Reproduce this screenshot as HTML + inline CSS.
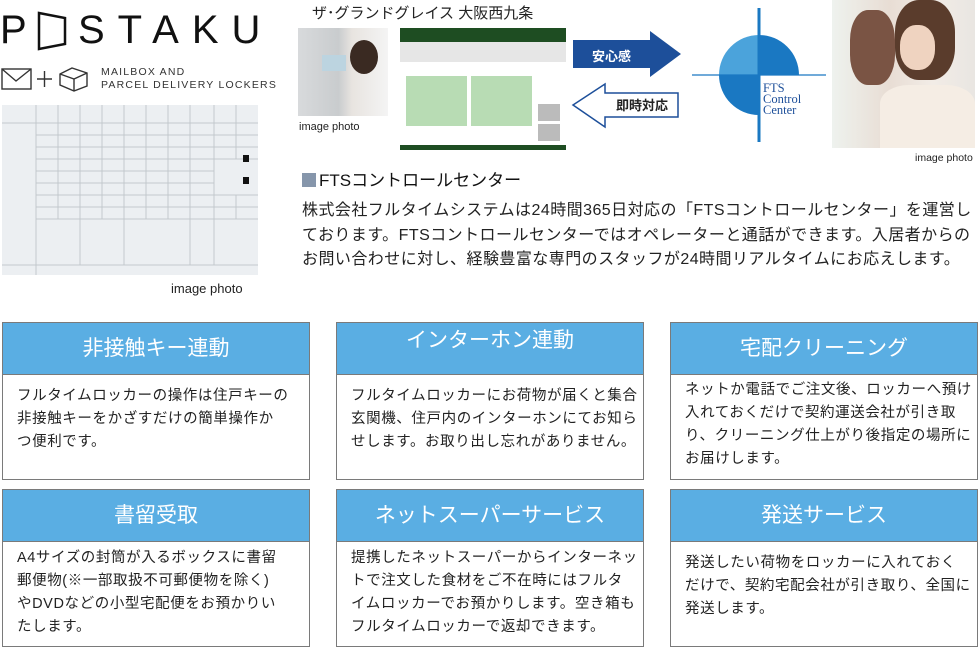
<!DOCTYPE html>
<html><head><meta charset="utf-8"><style>
*{margin:0;padding:0;box-sizing:border-box}
body{width:980px;height:648px;background:#fff;position:relative;overflow:hidden;font-family:"Liberation Sans","Noto Sans CJK JP",sans-serif;color:#222}
.a{position:absolute}
.card{position:absolute;width:308px;height:158px;border:1.5px solid #7a7a7a;background:#fff}
.card .h{height:52px;background:#5aaee3;color:#fff;font-size:21px;text-align:center;line-height:52px;border-bottom:1px solid #7a7a7a}
.card .b{padding:10px 0 0 14px;font-size:14.5px;line-height:23px;letter-spacing:0.6px;white-space:nowrap}
.p{font-size:16px;line-height:24.5px;white-space:nowrap;letter-spacing:0.45px}
</style></head><body>
<!-- logo -->
<div class="a" style="left:0;top:8px;font-size:40px;color:#111;font-weight:300">P</div>
<div class="a" style="left:78px;top:8px;font-size:40px;letter-spacing:13px;color:#111;font-weight:300">STAKU</div>
<svg class="a" style="left:36px;top:11px" width="32" height="40"><path d="M3 2 L29 7 L29 33 L3 38 Z" fill="none" stroke="#111" stroke-width="2.5"/></svg>
<svg class="a" style="left:0;top:64px" width="92" height="28" fill="none" stroke="#333" stroke-width="1.4"><rect x="2" y="5" width="29" height="20"/><path d="M2 5 L16 17 L31 5"/><path d="M37 15 H52 M44.5 7 V23"/><path d="M60 10 L72 4 L87 9 L87 22 L74 27 L60 21 Z M60 10 L74 15 L87 9 M74 15 V27"/></svg>
<div class="a" style="left:101px;top:66px;font-size:10.5px;letter-spacing:1.2px;line-height:13px;color:#333">MAILBOX AND<br>PARCEL DELIVERY LOCKERS</div>
<!-- locker -->
<svg class="a" style="left:2px;top:105px" width="256" height="170">
<rect width="256" height="170" fill="#eceff2"/>
<g stroke="#c3c8cd" stroke-width="1">
<line x1="0" y1="18" x2="256" y2="18"/><line x1="34" y1="30" x2="256" y2="30"/><line x1="34" y1="42" x2="256" y2="42"/><line x1="34" y1="54" x2="256" y2="54"/><line x1="34" y1="66" x2="212" y2="66"/><line x1="34" y1="78" x2="212" y2="78"/><line x1="34" y1="90" x2="256" y2="90"/><line x1="34" y1="102" x2="256" y2="102"/><line x1="34" y1="114" x2="256" y2="114"/><line x1="0" y1="160" x2="256" y2="160"/>
<line x1="34" y1="0" x2="34" y2="170"/><line x1="56" y1="0" x2="56" y2="114"/><line x1="78" y1="0" x2="78" y2="160"/><line x1="100" y1="0" x2="100" y2="114"/><line x1="122" y1="0" x2="122" y2="160"/><line x1="144" y1="0" x2="144" y2="114"/><line x1="166" y1="0" x2="166" y2="114"/><line x1="188" y1="0" x2="188" y2="160"/><line x1="212" y1="0" x2="212" y2="160"/><line x1="234" y1="0" x2="234" y2="54"/><line x1="234" y1="90" x2="234" y2="114"/>
</g>
<rect x="241" y="50" width="6" height="7" fill="#111"/><rect x="241" y="72" width="6" height="7" fill="#111"/>
</svg>
<div class="a" style="left:171px;top:281px;font-size:13px">image photo</div>
<!-- middle -->
<div class="a" style="left:312px;top:2px;font-size:15px">ザ･グランドグレイス 大阪西九条</div>
<div class="a" style="left:298px;top:28px;width:90px;height:88px;background:linear-gradient(90deg,#d8dadc 0%,#c9ccce 45%,#e8e4e0 60%,#f4f4f4 100%)"></div>
<div class="a" style="left:350px;top:40px;width:28px;height:34px;border-radius:50%;background:#3a2a22"></div>
<div class="a" style="left:322px;top:55px;width:24px;height:16px;background:#bcd4e0"></div>
<div class="a" style="left:299px;top:121px;font-size:11px">image photo</div>
<div class="a" style="left:400px;top:28px;width:166px;height:122px;background:#fff">
<div style="height:14px;background:#1e4d22"></div>
<div style="height:20px;background:#e6e6e6"></div>
<div style="position:absolute;left:6px;top:48px;width:61px;height:50px;background:#b8dcb4"></div>
<div style="position:absolute;left:71px;top:48px;width:61px;height:50px;background:#b8dcb4"></div>
<div style="position:absolute;left:138px;top:76px;width:22px;height:17px;background:#bbb"></div>
<div style="position:absolute;left:138px;top:96px;width:22px;height:17px;background:#bbb"></div>
<div style="position:absolute;left:0;top:117px;width:166px;height:5px;background:#1e4d22"></div>
</div>
<svg class="a" style="left:570px;top:28px" width="115" height="104">
<path d="M3 12 H80 V3 L111 26 L80 49 V40 H3 Z" fill="#1d4f9a"/>
<path d="M35 56 V65 H108 V89 H35 V99 L3 77 Z" fill="#fff" stroke="#1d4f9a" stroke-width="1.5"/>
<text x="22" y="33" font-size="13" font-weight="bold" fill="#fff" font-family="Noto Sans CJK JP,sans-serif">安心感</text>
<text x="46" y="82" font-size="13" font-weight="bold" fill="#222" font-family="Noto Sans CJK JP,sans-serif">即時対応</text>
</svg>
<svg class="a" style="left:690px;top:6px" width="140" height="140">
<path d="M29 69 A40 40 0 0 1 69 29 V69 Z" fill="#4ba3db"/>
<path d="M69 29 A40 40 0 0 1 109 69 H69 Z" fill="#1a78c2"/>
<path d="M29 69 H69 V109 A40 40 0 0 1 29 69 Z" fill="#1a78c2"/>
<line x1="2" y1="69" x2="136" y2="69" stroke="#1a78c2" stroke-width="1.2"/>
<line x1="69" y1="2" x2="69" y2="136" stroke="#1a78c2" stroke-width="3"/>
<text font-size="12.5" fill="#1d4f9a" font-family="Liberation Serif,serif"><tspan x="73" y="86">FTS</tspan><tspan x="73" dy="11">Control</tspan><tspan x="73" dy="11">Center</tspan></text>
</svg>
<div class="a" style="left:832px;top:0;width:143px;height:148px;background:linear-gradient(90deg,#eef2ee,#e8ddd4 40%,#f2ece6 70%,#e9e6e2)"></div>
<div class="a" style="left:850px;top:10px;width:45px;height:75px;border-radius:40%;background:#7a5444"></div>
<div class="a" style="left:895px;top:0;width:60px;height:80px;border-radius:40%;background:#5a3c2c"></div>
<div class="a" style="left:900px;top:25px;width:35px;height:45px;border-radius:45%;background:#efd3c0"></div>
<div class="a" style="left:880px;top:85px;width:95px;height:63px;border-radius:30% 30% 0 0;background:#f5ede4"></div>
<div class="a" style="left:915px;top:152px;font-size:10.5px">image photo</div>
<div class="a" style="left:302px;top:166px;font-size:17px;color:#111"><span style="display:inline-block;width:14px;height:14px;background:#8696ab;vertical-align:-1px;margin-right:3px"></span>FTSコントロールセンター</div>
<div class="a p" style="left:302px;top:199px">株式会社フルタイムシステムは24時間365日対応の「FTSコントロールセンター」を運営し<br>ております。FTSコントロールセンターではオペレーターと通話ができます。入居者からの<br>お問い合わせに対し、経験豊富な専門のスタッフが24時間リアルタイムにお応えします。</div>
<!-- cards -->
<div class="card" style="left:2px;top:322px"><div class="h">非接触キー連動</div><div class="b">フルタイムロッカーの操作は住戸キーの<br>非接触キーをかざすだけの簡単操作か<br>つ便利です。</div></div>
<div class="card" style="left:336px;top:322px"><div class="h" style="line-height:36px">インターホン連動</div><div class="b">フルタイムロッカーにお荷物が届くと集合<br>玄関機、住戸内のインターホンにてお知ら<br>せします。お取り出し忘れがありません。</div></div>
<div class="card" style="left:670px;top:322px"><div class="h">宅配クリーニング</div><div class="b" style="padding-top:4px">ネットか電話でご注文後、ロッカーへ預け<br>入れておくだけで契約運送会社が引き取<br>り、クリーニング仕上がり後指定の場所に<br>お届けします。</div></div>
<div class="card" style="left:2px;top:489px"><div class="h">書留受取</div><div class="b" style="padding-top:5px">A4サイズの封筒が入るボックスに書留<br>郵便物(※一部取扱不可郵便物を除く)<br>やDVDなどの小型宅配便をお預かりい<br>たします。</div></div>
<div class="card" style="left:336px;top:489px"><div class="h">ネットスーパーサービス</div><div class="b" style="padding-top:5px">提携したネットスーパーからインターネッ<br>トで注文した食材をご不在時にはフルタ<br>イムロッカーでお預かりします。空き箱も<br>フルタイムロッカーで返却できます。</div></div>
<div class="card" style="left:670px;top:489px"><div class="h">発送サービス</div><div class="b" style="padding-top:10px">発送したい荷物をロッカーに入れておく<br>だけで、契約宅配会社が引き取り、全国に<br>発送します。</div></div>
</body></html>
